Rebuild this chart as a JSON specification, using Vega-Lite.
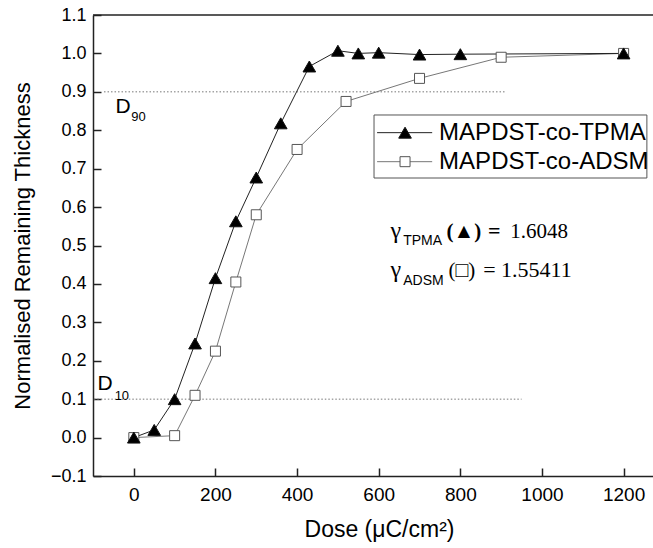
{
  "$schema": "https://vega.github.io/schema/vega-lite/v6.json",
  "width": 560,
  "height": 461,
  "autosize": "none",
  "padding": {"left": 93, "top": 15, "right": 0, "bottom": 72},
  "background": "white",
  "config": {"view": {"stroke": null}, "font": "Liberation Sans", "axis": {"labelOverlap": false, "labelBound": false, "labelFlush": false}},
  "data": {
    "values": [
      {"series": "MAPDST-co-ADSM", "dose": 0, "thickness": 0},
      {"series": "MAPDST-co-ADSM", "dose": 100, "thickness": 0.005},
      {"series": "MAPDST-co-ADSM", "dose": 150, "thickness": 0.11},
      {"series": "MAPDST-co-ADSM", "dose": 200, "thickness": 0.225},
      {"series": "MAPDST-co-ADSM", "dose": 250, "thickness": 0.405},
      {"series": "MAPDST-co-ADSM", "dose": 300, "thickness": 0.58},
      {"series": "MAPDST-co-ADSM", "dose": 400, "thickness": 0.75},
      {"series": "MAPDST-co-ADSM", "dose": 520, "thickness": 0.875},
      {"series": "MAPDST-co-ADSM", "dose": 700, "thickness": 0.935},
      {"series": "MAPDST-co-ADSM", "dose": 900, "thickness": 0.99},
      {"series": "MAPDST-co-ADSM", "dose": 1200, "thickness": 1.0},
      {"series": "MAPDST-co-TPMA", "dose": 0, "thickness": 0},
      {"series": "MAPDST-co-TPMA", "dose": 50, "thickness": 0.02},
      {"series": "MAPDST-co-TPMA", "dose": 100, "thickness": 0.1},
      {"series": "MAPDST-co-TPMA", "dose": 150, "thickness": 0.245},
      {"series": "MAPDST-co-TPMA", "dose": 200, "thickness": 0.415},
      {"series": "MAPDST-co-TPMA", "dose": 250, "thickness": 0.563},
      {"series": "MAPDST-co-TPMA", "dose": 300, "thickness": 0.677},
      {"series": "MAPDST-co-TPMA", "dose": 360, "thickness": 0.818},
      {"series": "MAPDST-co-TPMA", "dose": 430, "thickness": 0.966},
      {"series": "MAPDST-co-TPMA", "dose": 500, "thickness": 1.007},
      {"series": "MAPDST-co-TPMA", "dose": 550, "thickness": 1.0},
      {"series": "MAPDST-co-TPMA", "dose": 600, "thickness": 1.002},
      {"series": "MAPDST-co-TPMA", "dose": 700, "thickness": 0.997},
      {"series": "MAPDST-co-TPMA", "dose": 800, "thickness": 0.998},
      {"series": "MAPDST-co-TPMA", "dose": 1200, "thickness": 1.0}
    ]
  },
  "layer": [
    {
      "layer": [
        {
          "data": {"values": [{}]},
          "mark": {"type": "rule", "color": "#777", "strokeDash": [1.5, 2], "strokeWidth": 1},
          "encoding": {
            "x": {"datum": -73, "type": "quantitative"},
            "x2": {"datum": 910},
            "y": {"datum": 0.9, "type": "quantitative",
              "axis": {"orient": "left", "values": [0, 0.2, 0.4, 0.6, 0.8, 1.0], "format": ".1f", "labelOverlap": false, "title": null, "domain": false, "grid": false,
                "tickColor": "#222", "tickWidth": 1.5, "tickSize": -8,
                "labelPadding": 15, "labelFont": "Liberation Sans", "labelFontSize": 18, "labelColor": "black"}}
          }
        },
        {
          "data": {"values": [{}]},
          "mark": {"type": "rule", "color": "#777", "strokeDash": [1.5, 2], "strokeWidth": 1},
          "encoding": {
            "x": {"datum": -98, "type": "quantitative"},
            "x2": {"datum": 950},
            "y": {"datum": 0.1, "type": "quantitative"}
          }
        }
      ]
    },
    {
      "layer": [
        {
          "mark": {"type": "line", "strokeWidth": 1},
          "encoding": {
            "x": {"field": "dose", "type": "quantitative",
              "scale": {"domain": [-100, 1272], "nice": false, "zero": false},
              "axis": {"orient": "bottom", "values": [0, 200, 400, 600, 800, 1000, 1200], "format": "d", "labelOverlap": false, "title": "Dose (μC/cm²)", "grid": false,
                "domainColor": "#222", "domainWidth": 1.5, "tickColor": "#222", "tickWidth": 1.5, "tickSize": -8,
                "labelPadding": 17, "labelFont": "Liberation Sans", "labelFontSize": 19, "labelColor": "black",
                "titleFont": "Liberation Sans", "titleFontSize": 23, "titleFontWeight": "normal", "titleColor": "black", "titlePadding": 14, "titleX": 286}},
            "y": {"field": "thickness", "type": "quantitative",
              "scale": {"domain": [-0.1, 1.1], "nice": false, "zero": false},
              "axis": {"orient": "left", "values": [-0.1, 0.1, 0.3, 0.5, 0.7, 0.9, 1.1], "format": ".1f", "labelOverlap": false, "title": "Normalised Remaining Thickness", "grid": false,
                "domainColor": "#222", "domainWidth": 1.5, "tickColor": "#222", "tickWidth": 1.5, "tickSize": -8,
                "labelPadding": 15, "labelFont": "Liberation Sans", "labelFontSize": 18, "labelColor": "black",
                "titleFont": "Liberation Sans", "titleFontSize": 22, "titleFontWeight": "normal", "titleColor": "black", "titlePadding": 16}},
            "color": {"field": "series", "type": "nominal", "scale": {"domain": ["MAPDST-co-TPMA", "MAPDST-co-ADSM"], "range": ["#222222", "#777777"]}, "legend": null}
          }
        },
        {
          "mark": {"type": "point", "filled": false, "opacity": 1, "strokeWidth": 1},
          "encoding": {
            "x": {"field": "dose", "type": "quantitative"},
            "y": {"field": "thickness", "type": "quantitative"},
            "shape": {"field": "series", "type": "nominal",
              "scale": {"domain": ["MAPDST-co-TPMA", "MAPDST-co-ADSM"], "range": ["triangle-up", "square"]}, "legend": null},
            "size": {"condition": {"test": "datum.series === 'MAPDST-co-TPMA'", "value": 160}, "value": 100},
            "fill": {"condition": {"test": "datum.series === 'MAPDST-co-TPMA'", "value": "#000000"}, "value": "#ffffff"},
            "stroke": {"condition": {"test": "datum.series === 'MAPDST-co-TPMA'", "value": "#111111"}, "value": "#555555"}
          }
        },
        {
          "data": {"values": [{}]},
          "mark": {"type": "rule", "color": "#222", "strokeWidth": 1.5},
          "encoding": {"y": {"datum": 1.1, "type": "quantitative"}}
        },
        {
          "data": {"values": [{}]},
          "mark": {"type": "rect", "fill": "white", "stroke": "#555", "strokeWidth": 1},
          "encoding": {"x": {"datum": 588.5, "type": "quantitative"}, "x2": {"datum": 1257}, "y": {"datum": 0.8397, "type": "quantitative"}, "y2": {"datum": 0.6757}}
        },
        {
          "data": {"values": [{}]},
          "mark": {"type": "rule", "color": "#222", "strokeWidth": 1},
          "encoding": {"x": {"datum": 596, "type": "quantitative"}, "x2": {"datum": 731}, "y": {"datum": 0.7937, "type": "quantitative"}}
        },
        {
          "data": {"values": [{}]},
          "mark": {"type": "rule", "color": "#777", "strokeWidth": 1},
          "encoding": {"x": {"datum": 596, "type": "quantitative"}, "x2": {"datum": 731}, "y": {"datum": 0.7182, "type": "quantitative"}}
        },
        {
          "data": {"values": [{}]},
          "mark": {"type": "point", "shape": "triangle-up", "size": 160, "filled": true, "fill": "#000000", "stroke": "#111111", "strokeWidth": 1, "opacity": 1},
          "encoding": {"x": {"datum": 664.5, "type": "quantitative"}, "y": {"datum": 0.7937, "type": "quantitative"}}
        },
        {
          "data": {"values": [{}]},
          "mark": {"type": "point", "shape": "square", "size": 100, "filled": true, "fill": "#ffffff", "stroke": "#555555", "strokeWidth": 1, "opacity": 1},
          "encoding": {"x": {"datum": 664.5, "type": "quantitative"}, "y": {"datum": 0.7182, "type": "quantitative"}}
        },
        {
          "data": {"values": [{}]},
          "mark": {"type": "text", "text": "MAPDST-co-TPMA", "font": "Liberation Sans", "fontSize": 24, "align": "left", "baseline": "middle", "color": "black"},
          "encoding": {"x": {"datum": 748, "type": "quantitative"}, "y": {"datum": 0.7937, "type": "quantitative"}}
        },
        {
          "data": {"values": [{}]},
          "mark": {"type": "text", "text": "MAPDST-co-ADSM", "font": "Liberation Sans", "fontSize": 24, "align": "left", "baseline": "middle", "color": "black"},
          "encoding": {"x": {"datum": 748, "type": "quantitative"}, "y": {"datum": 0.7182, "type": "quantitative"}}
        },
        {
          "data": {"values": [{}]},
          "mark": {"type": "text", "text": "D", "font": "Liberation Sans", "fontSize": 21, "align": "left", "baseline": "alphabetic", "color": "black"},
          "encoding": {"x": {"datum": -45, "type": "quantitative"}, "y": {"datum": 0.844, "type": "quantitative"}}
        },
        {
          "data": {"values": [{}]},
          "mark": {"type": "text", "text": "90", "font": "Liberation Sans", "fontSize": 13, "align": "left", "baseline": "alphabetic", "color": "black"},
          "encoding": {"x": {"datum": -6, "type": "quantitative"}, "y": {"datum": 0.823, "type": "quantitative"}}
        },
        {
          "data": {"values": [{}]},
          "mark": {"type": "text", "text": "D", "font": "Liberation Sans", "fontSize": 21, "align": "left", "baseline": "alphabetic", "color": "black"},
          "encoding": {"x": {"datum": -89, "type": "quantitative"}, "y": {"datum": 0.1235, "type": "quantitative"}}
        },
        {
          "data": {"values": [{}]},
          "mark": {"type": "text", "text": "10", "font": "Liberation Sans", "fontSize": 13, "align": "left", "baseline": "alphabetic", "color": "black"},
          "encoding": {"x": {"datum": -47, "type": "quantitative"}, "y": {"datum": 0.099, "type": "quantitative"}}
        },
        {
          "data": {"values": [{}]},
          "mark": {"type": "text", "text": "γ", "font": "Liberation Serif", "fontSize": 24, "align": "left", "baseline": "alphabetic", "color": "black"},
          "encoding": {"x": {"datum": 629, "type": "quantitative"}, "y": {"datum": 0.5185, "type": "quantitative"}}
        },
        {
          "data": {"values": [{}]},
          "mark": {"type": "text", "text": "TPMA", "font": "Liberation Sans", "fontSize": 14, "align": "left", "baseline": "alphabetic", "color": "black"},
          "encoding": {"x": {"datum": 660, "type": "quantitative"}, "y": {"datum": 0.501, "type": "quantitative"}}
        },
        {
          "data": {"values": [{}]},
          "mark": {"type": "text", "text": "(▲)", "font": "Liberation Serif", "fontSize": 21, "fontWeight": "bold", "align": "left", "baseline": "alphabetic", "color": "black"},
          "encoding": {"x": {"datum": 766, "type": "quantitative"}, "y": {"datum": 0.5185, "type": "quantitative"}}
        },
        {
          "data": {"values": [{}]},
          "mark": {"type": "text", "text": "=", "font": "Liberation Serif", "fontSize": 22, "fontWeight": "bold", "align": "left", "baseline": "alphabetic", "color": "black"},
          "encoding": {"x": {"datum": 868, "type": "quantitative"}, "y": {"datum": 0.5185, "type": "quantitative"}}
        },
        {
          "data": {"values": [{}]},
          "mark": {"type": "text", "text": "1.6048", "font": "Liberation Serif", "fontSize": 21, "align": "left", "baseline": "alphabetic", "color": "black"},
          "encoding": {"x": {"datum": 922, "type": "quantitative"}, "y": {"datum": 0.5185, "type": "quantitative"}}
        },
        {
          "data": {"values": [{}]},
          "mark": {"type": "text", "text": "γ", "font": "Liberation Serif", "fontSize": 24, "align": "left", "baseline": "alphabetic", "color": "black"},
          "encoding": {"x": {"datum": 629, "type": "quantitative"}, "y": {"datum": 0.4187, "type": "quantitative"}}
        },
        {
          "data": {"values": [{}]},
          "mark": {"type": "text", "text": "ADSM", "font": "Liberation Sans", "fontSize": 14, "align": "left", "baseline": "alphabetic", "color": "black"},
          "encoding": {"x": {"datum": 660, "type": "quantitative"}, "y": {"datum": 0.397, "type": "quantitative"}}
        },
        {
          "data": {"values": [{}]},
          "mark": {"type": "text", "text": "(□)", "font": "Liberation Serif", "fontSize": 21, "align": "left", "baseline": "alphabetic", "color": "black"},
          "encoding": {"x": {"datum": 771, "type": "quantitative"}, "y": {"datum": 0.4187, "type": "quantitative"}}
        },
        {
          "data": {"values": [{}]},
          "mark": {"type": "text", "text": "= 1.55411", "font": "Liberation Serif", "fontSize": 22, "align": "left", "baseline": "alphabetic", "color": "black"},
          "encoding": {"x": {"datum": 856, "type": "quantitative"}, "y": {"datum": 0.4187, "type": "quantitative"}}
        }
      ]
    }
  ],
  "resolve": {"axis": {"y": "independent"}}
}
